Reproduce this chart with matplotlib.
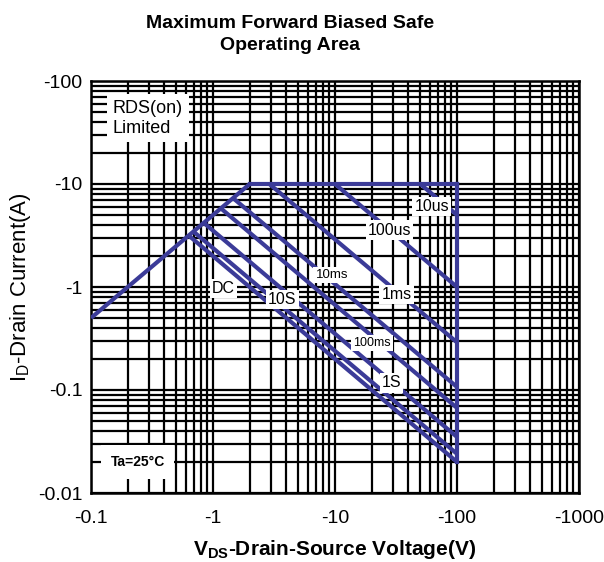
import matplotlib
matplotlib.use("Agg")
import matplotlib.pyplot as plt
import numpy as np
from matplotlib.ticker import LogLocator, FixedLocator, NullFormatter

plt.rcParams['font.family'] = ['Liberation Sans', 'DejaVu Sans']

# ---- data ----
x_ticks = [0.1, 1, 10, 100, 1000]
x_ticklabels = ["-0.1", "-1", "-10", "-100", "-1000"]
y_ticks = [0.01, 0.1, 1, 10, 100]
y_ticklabels = ["-0.01", "-0.1", "-1", "-10", "-100"]

# RDS(on) limit line, current limit, voltage limit
rds_v = [0.1, 2.0]
rds_i = [0.5, 10.0]
top_v = [2.0, 100.0]
top_i = [10.0, 10.0]
vmax_v = [100.0, 100.0]
vmax_i = [10.0, 0.02]

# pulse lines: (start V, start I) -> (end V, end I)
pulse_names = ["10us", "100us", "1ms", "10ms", "100ms", "1S", "10S", "DC"]
pulse_v0 = [50.0, 10.0, 2.9, 1.46, 1.16, 0.84, 0.69, 0.632]
pulse_i0 = [10.0, 10.0, 10.0, 7.3, 5.8, 4.2, 3.46, 3.16]
pulse_v1 = [100.0, 100.0, 100.0, 100.0, 100.0, 100.0, 100.0, 100.0]
pulse_i1 = [5.0, 1.0, 0.29, 0.107, 0.067, 0.035, 0.024, 0.02]

# label positions (V, I) and sizes
label_v = [62.0, 28.0, 9.4, 32.0, 20.0, 29.0, 3.7, 1.21]
label_i = [6.0, 3.57, 1.31, 0.84, 0.286, 0.117, 0.75, 0.96]
label_order = ["10us", "100us", "10ms", "1ms", "100ms", "1S", "10S", "DC"]
label_size = [11.5, 11.5, 9.5, 11.5, 9.0, 11.5, 11.5, 11.5]

blue = "#3b3b98"

fig = plt.figure(figsize=(6.04, 5.62), dpi=100)
ax = fig.add_axes([91/604, 1-493/562, 488/604, 412/562])
ax.set_xscale("log")
ax.set_yscale("log")
ax.set_xlim(0.1, 1000)
ax.set_ylim(0.01, 100)

ax.xaxis.set_major_locator(FixedLocator(x_ticks))
ax.yaxis.set_major_locator(FixedLocator(y_ticks))
ax.set_xticklabels(x_ticklabels, fontsize=14)
ax.set_yticklabels(y_ticklabels, fontsize=14)
ax.xaxis.set_minor_locator(LogLocator(base=10, subs=np.arange(2, 10)))
ax.yaxis.set_minor_locator(LogLocator(base=10, subs=np.arange(2, 10)))
ax.xaxis.set_minor_formatter(NullFormatter())
ax.yaxis.set_minor_formatter(NullFormatter())
ax.tick_params(which="both", length=0)
ax.tick_params(axis="x", pad=12)
ax.tick_params(axis="y", pad=6)
ax.grid(True, which="both", color="black", linewidth=1.6)
for s in ax.spines.values():
    s.set_linewidth(1.8)

lw = 3.0
ax.plot(rds_v, rds_i, color=blue, lw=lw, solid_capstyle="butt", zorder=3)
ax.plot(top_v, top_i, color=blue, lw=lw, zorder=3)
ax.plot(vmax_v, vmax_i, color=blue, lw=lw, zorder=3)
for i in range(len(pulse_names)):
    ax.plot([pulse_v0[i], pulse_v1[i]], [pulse_i0[i], pulse_i1[i]],
            color=blue, lw=lw, solid_capstyle="butt", zorder=3)

for name, v, c, fs in zip(label_order, label_v, label_i, label_size):
    ax.text(v, c, name, fontsize=fs, ha="center", va="center", zorder=5,
            bbox=dict(facecolor="white", edgecolor="none", pad=1.5))

ax.text(0.045, 0.955, "RDS(on)\nLimited", transform=ax.transAxes, fontsize=13,
        ha="left", va="top", linespacing=1.25, zorder=5,
        bbox=dict(facecolor="white", edgecolor="none", pad=4))
ax.text(0.04, 0.075, "Ta=25°C", transform=ax.transAxes, fontsize=10,
        fontweight="bold", ha="left", va="center", zorder=5,
        bbox=dict(facecolor="white", edgecolor="none", pad=7))

fig.text(290/604, 1-23/562, "Maximum Forward Biased Safe", ha="center",
         va="center", fontsize=14, fontweight="bold")
fig.text(290/604, 1-46/562, "Operating Area", ha="center",
         va="center", fontsize=14, fontweight="bold")
ax.set_xlabel(r"V$_{\mathregular{DS}}$-Drain-Source Voltage(V)", fontsize=15,
              fontweight="bold", labelpad=8)
ax.set_ylabel(r"I$_{\mathregular{D}}$-Drain Current(A)", fontsize=16, labelpad=4)

fig.savefig("out.png", dpi=100)
